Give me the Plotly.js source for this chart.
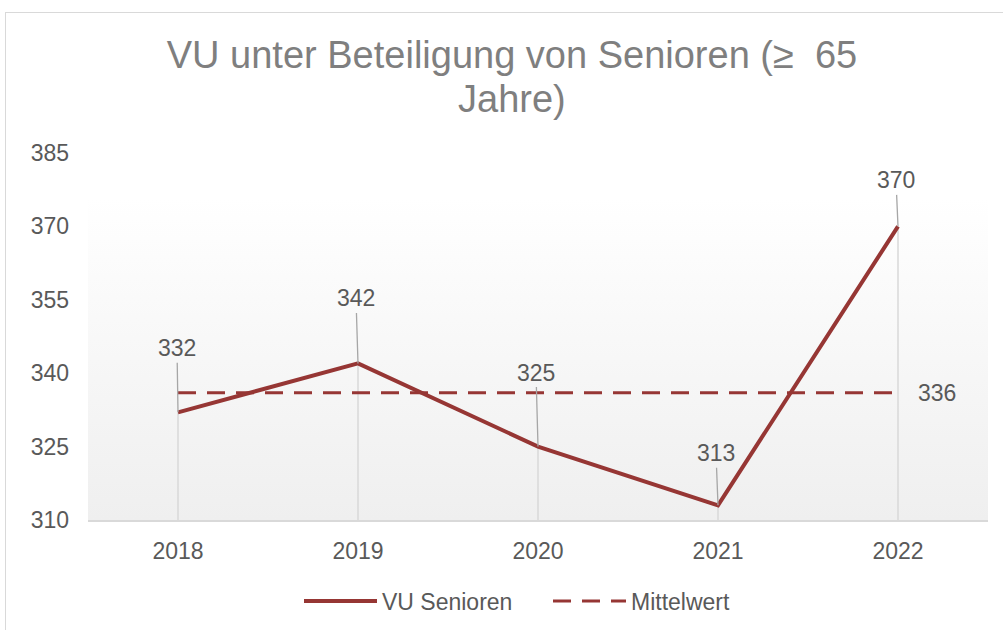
<!DOCTYPE html>
<html>
<head>
<meta charset="utf-8">
<script src="https://cdn.plot.ly/plotly-3.0.1.min.js"></script>
<style>
  html, body { margin: 0; padding: 0; width: 1003px; height: 630px; overflow: hidden; background: #ffffff; }
  #bg { position: absolute; background: linear-gradient(to bottom, #ffffff 0%, #ffffff 12%, #efefef 100%); }
  #frame { position: absolute; left: 5px; top: 12px; width: 1100px; height: 700px; border: 1.5px solid #d9d9d9; pointer-events: none; }
  #chart { position: absolute; left: 0; top: 0; width: 1003px; height: 630px; }
</style>
</head>
<body>
<div id="bg"></div>
<div id="chart"></div>
<div id="frame"></div>
<script>
// ---- data ----
const years = ['2018', '2019', '2020', '2021', '2022'];
const vuSenioren = [332, 342, 325, 313, 370];
const mittelwert = [336, 336, 336, 336, 336];
const yTicks = [310, 325, 340, 355, 370, 385];
const seriesNames = ['VU Senioren', 'Mittelwert'];
const titleLines = ['VU unter Beteiligung von Senioren (≥\u00a0 65', 'Jahre)'];

// ---- styling ----
const lineColor = '#963634';
const textColor = '#595959';
const fontFam = '"Liberation Sans", Arial, sans-serif';
const labelOffsets = [[-1, -64], [-2, -65], [-2, -74], [-2, -52], [-2, -46]];
const yMin = yTicks[0], yMax = yTicks[yTicks.length - 1];

const dropTrace = {
  x: years, y: vuSenioren, type: 'scatter', mode: 'markers',
  marker: { opacity: 0, size: 1 },
  error_y: { type: 'data', symmetric: false, array: vuSenioren.map(() => 0),
             arrayminus: vuSenioren.map(v => v - yMin), color: '#d9d9d9', thickness: 1.5, width: 0 },
  showlegend: false, hoverinfo: 'skip'
};
const meanTrace = {
  x: years, y: mittelwert, type: 'scatter', mode: 'lines', name: seriesNames[1], legendrank: 2,
  line: { color: lineColor, width: 3, dash: '18px,11px' }
};
const mainTrace = {
  x: years, y: vuSenioren, type: 'scatter', mode: 'lines', name: seriesNames[0], legendrank: 1,
  line: { color: lineColor, width: 4 }
};

const annotations = years.map((yr, i) => ({
  x: i, y: vuSenioren[i], xref: 'x', yref: 'y',
  text: String(vuSenioren[i]), showarrow: true, arrowhead: 0, arrowwidth: 1.3,
  arrowcolor: '#a6a6a6', ax: labelOffsets[i][0], ay: labelOffsets[i][1], standoff: 0,
  font: { family: fontFam, size: 23, color: textColor }
}));
annotations.push({
  x: years.length - 1, y: mittelwert[mittelwert.length - 1], xref: 'x', yref: 'y',
  text: String(mittelwert[mittelwert.length - 1]), showarrow: false,
  xanchor: 'left', yanchor: 'middle', xshift: 18,
  font: { family: fontFam, size: 23, color: textColor }
});
// second title line
annotations.push({
  x: (512 - 88) / 900, y: 1, xref: 'paper', yref: 'paper', xanchor: 'center', yanchor: 'middle',
  yshift: 153 - 99, text: titleLines[1], showarrow: false,
  font: { family: fontFam, size: 38, color: '#7f7f7f' }
});

const layout = {
  width: 1003, height: 630,
  paper_bgcolor: 'rgba(0,0,0,0)', plot_bgcolor: 'rgba(0,0,0,0)',
  margin: { l: 88, r: 15, t: 153, b: 110, pad: 0 },
  font: { family: fontFam, color: textColor, size: 23 },
  title: {
    text: titleLines[0], xref: 'container', yref: 'container',
    x: 512 / 1003, xanchor: 'center', y: 1 - 55 / 630, yanchor: 'middle',
    font: { family: fontFam, size: 38, color: '#7f7f7f' }
  },
  xaxis: {
    type: 'category', range: [-0.5, years.length - 0.5],
    showline: true, linecolor: '#d9d9d9', linewidth: 1.5,
    showgrid: false, zeroline: false, ticks: '', ticklabelstandoff: 10,
    tickfont: { family: fontFam, size: 23, color: textColor }, fixedrange: true
  },
  yaxis: {
    range: [yMin, yMax], tickvals: yTicks, showline: false, showgrid: false, zeroline: false,
    ticks: '', ticklabelstandoff: 18,
    tickfont: { family: fontFam, size: 23, color: textColor }, fixedrange: true
  },
  showlegend: true,
  legend: {
    orientation: 'h', xref: 'container', yref: 'container',
    x: 299 / 1003, xanchor: 'left', y: 1 - 601 / 630, yanchor: 'middle',
    font: { family: fontFam, size: 23, color: textColor },
    bgcolor: 'rgba(0,0,0,0)', itemwidth: 73, entrywidth: 161, entrywidthmode: 'pixels', tracegroupgap: 0
  },
  annotations: annotations
};

Plotly.newPlot('chart', [dropTrace, meanTrace, mainTrace], layout, { displayModeBar: false, staticPlot: true })
  .then(gd => {
    const s = gd._fullLayout._size;
    const bg = document.getElementById('bg');
    bg.style.left = s.l + 'px';
    bg.style.top = s.t + 'px';
    bg.style.width = s.w + 'px';
    bg.style.height = s.h + 'px';
  });
</script>
</body>
</html>
